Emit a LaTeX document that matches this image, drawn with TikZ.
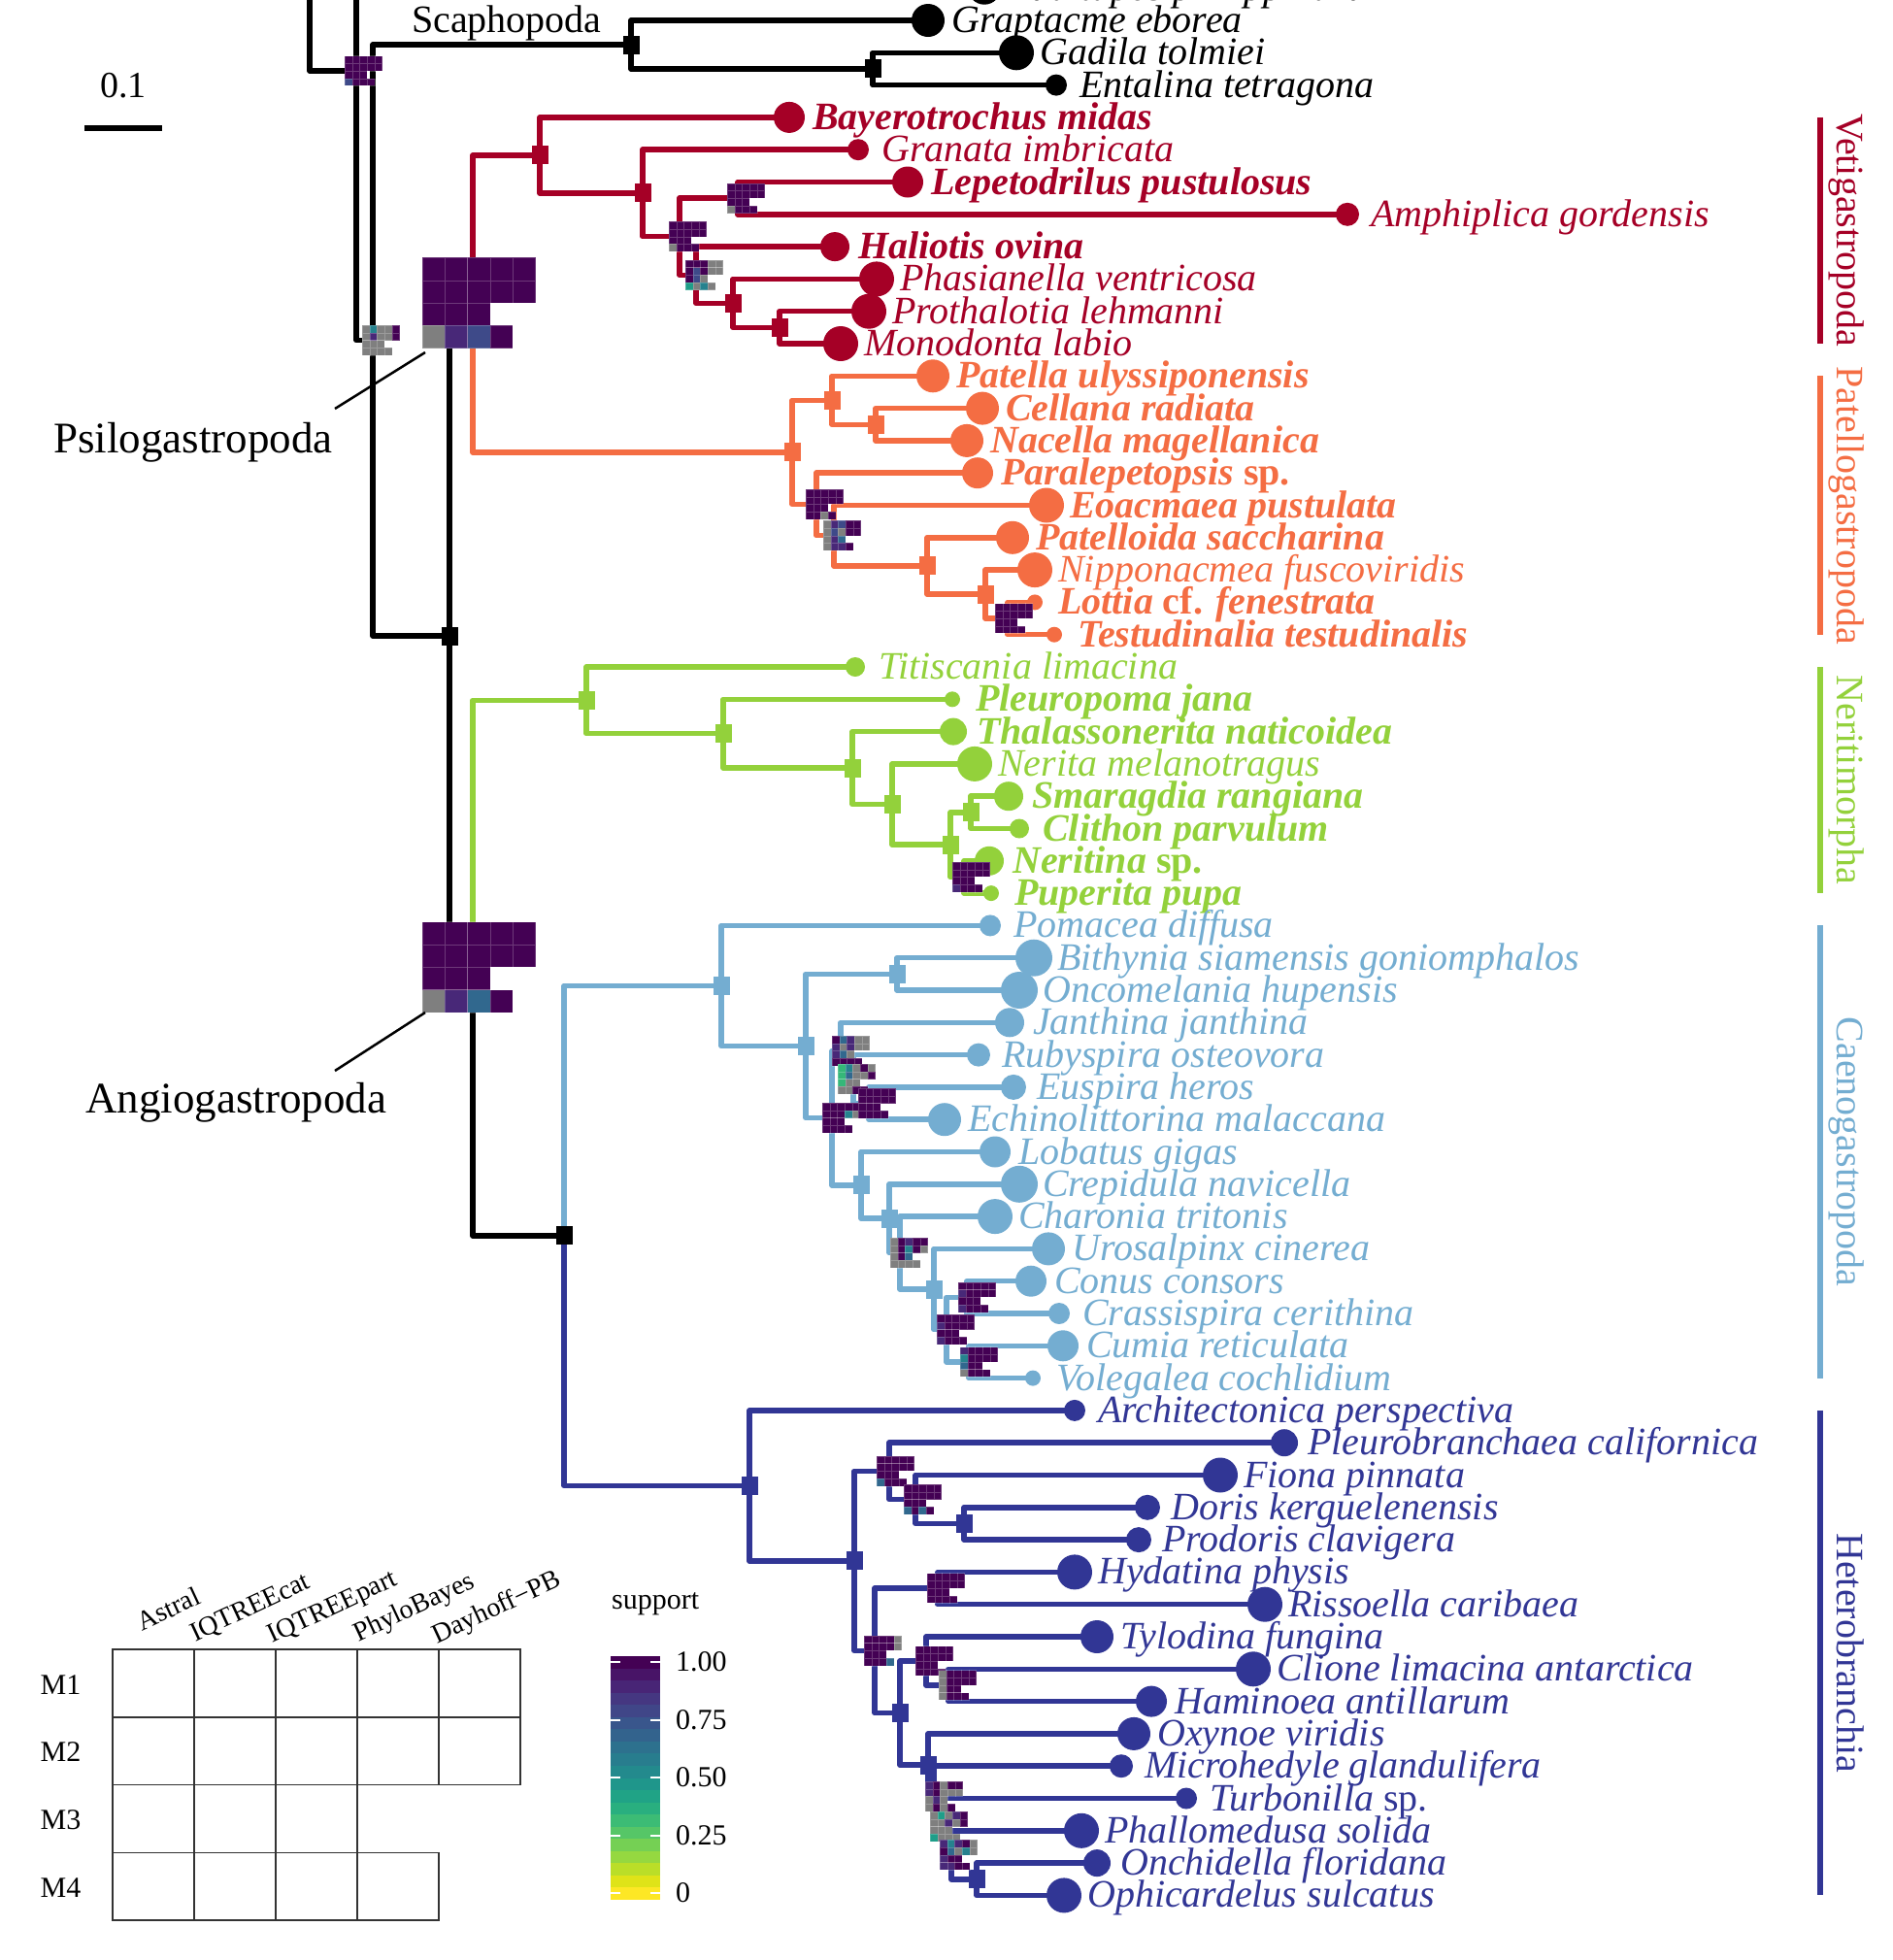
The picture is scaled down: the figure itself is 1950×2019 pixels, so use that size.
\documentclass[tikz,border=0pt]{standalone}
\usepackage{fontspec}
\setmainfont{Liberation Serif}
\usetikzlibrary{calc}
\pgfdeclarelayer{edges}
\pgfsetlayers{edges,main}
\definecolor{cVet}{HTML}{A50026}
\definecolor{cPat}{HTML}{F46D43}
\definecolor{cNer}{HTML}{93D13B}
\definecolor{cCae}{HTML}{74ADD1}
\definecolor{cHet}{HTML}{313695}
\definecolor{vP}{HTML}{440154}
\definecolor{vQ}{HTML}{482878}
\definecolor{vB}{HTML}{3E4A89}
\definecolor{vT}{HTML}{31688E}
\definecolor{vC}{HTML}{26828E}
\definecolor{vG}{HTML}{1F9E89}
\definecolor{vL}{HTML}{35B779}
\definecolor{vN}{HTML}{7F7F7F}
\definecolor{cb0}{HTML}{440154}\definecolor{cb1}{HTML}{481467}\definecolor{cb2}{HTML}{482576}
\definecolor{cb3}{HTML}{453781}\definecolor{cb4}{HTML}{404688}\definecolor{cb5}{HTML}{39568C}
\definecolor{cb6}{HTML}{33638D}\definecolor{cb7}{HTML}{2D718E}\definecolor{cb8}{HTML}{287D8E}
\definecolor{cb9}{HTML}{238A8D}\definecolor{cb10}{HTML}{1F968B}\definecolor{cb11}{HTML}{20A386}
\definecolor{cb12}{HTML}{29AF7F}\definecolor{cb13}{HTML}{3CBC75}\definecolor{cb14}{HTML}{56C667}
\definecolor{cb15}{HTML}{75D054}\definecolor{cb16}{HTML}{95D840}\definecolor{cb17}{HTML}{BADE28}
\definecolor{cb18}{HTML}{DFE318}\definecolor{cb19}{HTML}{FDE725}
\tikzset{
  edge/.style={line width=5.5pt, line join=round, line cap=round},
  tiplab/.style={anchor=base west, inner sep=0pt, font=\fontsize{40}{48}\selectfont\itshape},
  cladelab/.style={anchor=base, inner sep=0pt, rotate=-90, font=\fontsize{40}{48}\selectfont},
  cladebar/.style={line width=6pt},
  cell/.style={draw=white, draw opacity=0.22, line width=0.4pt},
  leglab/.style={inner sep=0pt, font=\fontsize{30}{36}\selectfont},
  colhead/.style={inner sep=0pt, anchor=center, rotate=25, font=\fontsize{28}{34}\selectfont},
  legcell/.style={draw=black!80, line width=1.5pt},
  bigtxt/.style={inner sep=0pt, anchor=base west, font=\fontsize{45}{54}\selectfont},
}
\newcommand\tipnode[6]{%
  \coordinate (#1) at (#2,{21+33.3*(#3)});
  \fill[#5] (#1) circle[radius=#4pt];
  \node[tiplab,text=#5] (#1l) at ($(#1)+(24,12.5)$) {#6};}
\newcommand\inode[3]{\coordinate (#1) at (#2,#3);}
\newcommand\brn[3]{\foreach \cc in {#3}{\draw[edge,#1] (#2) |- (\cc);}}
\newcommand\mkn[2]{\foreach \mm in {#2}{\fill[#1] ($(\mm)+(-8.5,-9.5)$) rectangle ++(17,19);}}
\newcommand\supbox[8][7.7]{%
  \begin{scope}[shift={($(#2)+(#3,#4)$)}]
    \foreach[count=\i from 0] \cl in {#5}{\fill[\cl,cell] ({\i*#1},0) rectangle ++(#1,#1);}
    \foreach[count=\i from 0] \cl in {#6}{\fill[\cl,cell] ({\i*#1},#1) rectangle ++(#1,#1);}
    \foreach[count=\i from 0] \cl in {#7}{\fill[\cl,cell] ({\i*#1},{2*#1}) rectangle ++(#1,#1);}
    \foreach[count=\i from 0] \cl in {#8}{\fill[\cl,cell] ({\i*#1},{3*#1}) rectangle ++(#1,#1);}
  \end{scope}}
\begin{document}
\begin{tikzpicture}[x=1pt,y=-1pt]
\useasboundingbox (0,0) rectangle (1950,2019);
% ---------------- tips
\tipnode{rud}{1014}{-1}{17}{black}{Ruditapes philippinarum}
\tipnode{grap}{956}{0}{17}{black}{Graptacme eborea}
\tipnode{gad}{1047}{1}{18}{black}{Gadila tolmiei}
\tipnode{ent}{1088}{2}{11}{black}{Entalina tetragona}
\tipnode{bay}{813}{3}{16}{cVet}{\bfseries Bayerotrochus midas}
\tipnode{gra}{884}{4}{11}{cVet}{Granata imbricata}
\tipnode{lep}{935}{5}{16}{cVet}{\bfseries Lepetodrilus pustulosus}
\tipnode{amp}{1388}{6}{12}{cVet}{Amphiplica gordensis}
\tipnode{hal}{860}{7}{15}{cVet}{\bfseries Haliotis ovina}
\tipnode{pha}{903}{8}{18}{cVet}{Phasianella ventricosa}
\tipnode{pro}{895}{9}{18}{cVet}{Prothalotia lehmanni}
\tipnode{mon}{866}{10}{18}{cVet}{Monodonta labio}
\tipnode{pat}{961}{11}{17}{cPat}{\bfseries Patella ulyssiponensis}
\tipnode{cel}{1012}{12}{17}{cPat}{\bfseries Cellana radiata}
\tipnode{nac}{996}{13}{17}{cPat}{\bfseries Nacella magellanica}
\tipnode{par}{1007}{14}{16}{cPat}{\bfseries Paralepetopsis \upshape sp.}
\tipnode{eoa}{1078}{15}{18}{cPat}{\bfseries Eoacmaea pustulata}
\tipnode{ptl}{1043}{16}{17}{cPat}{\bfseries Patelloida saccharina}
\tipnode{nip}{1066}{17}{18}{cPat}{Nipponacmea fuscoviridis}
\tipnode{lot}{1066}{18}{8}{cPat}{\bfseries Lottia {\upshape cf.} fenestrata}
\tipnode{tes}{1086}{19}{8}{cPat}{\bfseries Testudinalia testudinalis}
\tipnode{tit}{881}{20}{10}{cNer}{Titiscania limacina}
\tipnode{ple}{981}{21}{8}{cNer}{\bfseries Pleuropoma jana}
\tipnode{tha}{982}{22}{14}{cNer}{\bfseries Thalassonerita naticoidea}
\tipnode{ner}{1004}{23}{18}{cNer}{Nerita melanotragus}
\tipnode{sma}{1039}{24}{15}{cNer}{\bfseries Smaragdia rangiana}
\tipnode{cli}{1050}{25}{10}{cNer}{\bfseries Clithon parvulum}
\tipnode{nea}{1019}{26}{15}{cNer}{\bfseries Neritina \upshape sp.}
\tipnode{pup}{1021}{27}{8}{cNer}{\bfseries Puperita pupa}
\tipnode{pom}{1020}{28}{11}{cCae}{Pomacea diffusa}
\tipnode{bit}{1065}{29}{19}{cCae}{Bithynia siamensis goniomphalos}
\tipnode{onc}{1050}{30}{19}{cCae}{Oncomelania hupensis}
\tipnode{jan}{1040}{31}{15}{cCae}{Janthina janthina}
\tipnode{rub}{1008}{32}{12}{cCae}{Rubyspira osteovora}
\tipnode{eus}{1044}{33}{13}{cCae}{Euspira heros}
\tipnode{ech}{973}{34}{17}{cCae}{Echinolittorina malaccana}
\tipnode{lob}{1025}{35}{16}{cCae}{Lobatus gigas}
\tipnode{cre}{1050}{36}{19}{cCae}{Crepidula navicella}
\tipnode{cha}{1025}{37}{18}{cCae}{Charonia tritonis}
\tipnode{uro}{1080}{38}{17}{cCae}{Urosalpinx cinerea}
\tipnode{con}{1062}{39}{16}{cCae}{Conus consors}
\tipnode{cra}{1091}{40}{11}{cCae}{Crassispira cerithina}
\tipnode{cum}{1095}{41}{16}{cCae}{Cumia reticulata}
\tipnode{vol}{1064}{42}{8}{cCae}{Volegalea cochlidium}
\tipnode{arc}{1107}{43}{11}{cHet}{Architectonica perspectiva}
\tipnode{plb}{1323}{44}{14}{cHet}{Pleurobranchaea californica}
\tipnode{fio}{1257}{45}{18}{cHet}{Fiona pinnata}
\tipnode{dor}{1182}{46}{13}{cHet}{Doris kerguelenensis}
\tipnode{prd}{1173}{47}{13}{cHet}{Prodoris clavigera}
\tipnode{hyd}{1107}{48}{18}{cHet}{Hydatina physis}
\tipnode{ris}{1303}{49}{18}{cHet}{Rissoella caribaea}
\tipnode{tyl}{1130}{50}{17}{cHet}{Tylodina fungina}
\tipnode{cln}{1291}{51}{18}{cHet}{Clione limacina antarctica}
\tipnode{ham}{1186}{52}{16}{cHet}{Haminoea antillarum}
\tipnode{oxy}{1168}{53}{17}{cHet}{Oxynoe viridis}
\tipnode{mic}{1155}{54}{12}{cHet}{Microhedyle glandulifera}
\tipnode{tur}{1222}{55}{11}{cHet}{Turbonilla \upshape sp.}
\tipnode{phl}{1114}{56}{18}{cHet}{Phallomedusa solida}
\tipnode{ocd}{1130}{57}{14}{cHet}{Onchidella floridana}
\tipnode{oph}{1096}{58}{18}{cHet}{Ophicardelus sulcatus}
% ---------------- internal nodes
\inode{r319}{319}{-10}\inode{r367}{367}{-10}
\inode{n367}{367}{73}\inode{n384}{384}{350.5}
\inode{scaph}{650}{46}\inode{n899}{899}{70.95}
\inode{gastro}{463}{655}\inode{psilo}{487}{312.9}\inode{angio}{487}{997.1}
\inode{veti}{556}{159.9}\inode{v662}{662}{198.95}\inode{vA}{700}{243.7}
\inode{vB}{760}{204.15}\inode{vC}{717}{283.25}\inode{vD}{755}{312.4}\inode{vE}{803}{337.35}
\inode{patF}{816}{465.9}\inode{patG}{857}{412.3}\inode{patH}{902}{437.25}
\inode{patI}{841}{519.45}\inode{patJ}{859}{551.7}\inode{patK}{955}{582.95}
\inode{patL}{1015}{612.1}\inode{patM}{1038}{637.05}
\inode{nerN}{604}{721.35}\inode{nerO}{745}{755.7}\inode{nerP}{878}{791.05}
\inode{nerQ}{919}{828.5}\inode{nerR}{979}{870.15}\inode{nerS}{1000}{836.85}\inode{nerT}{993}{903.45}
\inode{ch}{581}{1272.9}
\inode{caeU}{743}{1015.45}\inode{caeV}{830}{1077.5}\inode{caeW}{924}{1003.35}
\inode{caeX}{857}{1151.65}\inode{caeA}{866}{1082.45}\inode{caeB}{879}{1111.6}\inode{caeC}{895}{1136.55}
\inode{caeY}{887}{1220.85}\inode{caeZ}{916}{1255.2}\inode{caeZb}{927}{1290.55}
\inode{caeZc}{962}{1328}\inode{caeZd}{975}{1369.65}\inode{caeZe}{996}{1336.35}\inode{caeZf}{998}{1402.95}
\inode{hAA}{772}{1530.35}\inode{hAB}{880}{1607.8}\inode{hAC}{916}{1515.35}
\inode{hAD}{943}{1544.5}\inode{hAE}{993}{1569.45}\inode{hAF}{901}{1700.3}
\inode{hAG}{966}{1636.05}\inode{hAH}{927}{1764.6}\inode{hAI}{954}{1711}
\inode{hAK}{977}{1735.95}\inode{hAJ}{956}{1818.15}\inode{hAJb}{962}{1850.4}
\inode{hAL}{972}{1881.65}\inode{hAN}{980}{1910.8}\inode{hAO}{1006}{1935.75}
% ---------------- edges
\begin{pgfonlayer}{edges}
\draw[edge] (r319) |- (n367);
\draw[edge] (r367) -- (n367);
\brn{black}{n367}{n384}
\brn{black}{n384}{scaph,gastro}
\brn{black}{scaph}{grap,n899}
\brn{black}{n899}{gad,ent}
\brn{black}{gastro}{psilo,angio}
\brn{black}{angio}{ch}
\brn{cVet}{psilo}{veti}
\brn{cVet}{veti}{bay,v662}
\brn{cVet}{v662}{gra,vA}
\brn{cVet}{vA}{vB,vC}
\brn{cVet}{vB}{lep,amp}
\brn{cVet}{vC}{hal,vD}
\brn{cVet}{vD}{pha,vE}
\brn{cVet}{vE}{pro,mon}
\brn{cPat}{psilo}{patF}
\brn{cPat}{patF}{patG,patI}
\brn{cPat}{patG}{pat,patH}
\brn{cPat}{patH}{cel,nac}
\brn{cPat}{patI}{par,patJ}
\brn{cPat}{patJ}{eoa,patK}
\brn{cPat}{patK}{ptl,patL}
\brn{cPat}{patL}{nip,patM}
\brn{cPat}{patM}{lot,tes}
\brn{cNer}{angio}{nerN}
\brn{cNer}{nerN}{tit,nerO}
\brn{cNer}{nerO}{ple,nerP}
\brn{cNer}{nerP}{tha,nerQ}
\brn{cNer}{nerQ}{ner,nerR}
\brn{cNer}{nerR}{nerS,nerT}
\brn{cNer}{nerS}{sma,cli}
\brn{cNer}{nerT}{nea,pup}
\brn{cCae}{ch}{caeU}
\brn{cCae}{caeU}{pom,caeV}
\brn{cCae}{caeV}{caeW,caeX}
\brn{cCae}{caeW}{bit,onc}
\brn{cCae}{caeX}{caeA,caeY}
\brn{cCae}{caeA}{jan,caeB}
\brn{cCae}{caeB}{rub,caeC}
\brn{cCae}{caeC}{eus,ech}
\brn{cCae}{caeY}{lob,caeZ}
\brn{cCae}{caeZ}{cre,caeZb}
\brn{cCae}{caeZb}{cha,caeZc}
\brn{cCae}{caeZc}{uro,caeZd}
\brn{cCae}{caeZd}{caeZe,caeZf}
\brn{cCae}{caeZe}{con,cra}
\brn{cCae}{caeZf}{cum,vol}
\brn{cHet}{ch}{hAA}
\brn{cHet}{hAA}{arc,hAB}
\brn{cHet}{hAB}{hAC,hAF}
\brn{cHet}{hAC}{plb,hAD}
\brn{cHet}{hAD}{fio,hAE}
\brn{cHet}{hAE}{dor,prd}
\brn{cHet}{hAF}{hAG,hAH}
\brn{cHet}{hAG}{hyd,ris}
\brn{cHet}{hAH}{hAI,hAJ}
\brn{cHet}{hAI}{tyl,hAK}
\brn{cHet}{hAK}{cln,ham}
\brn{cHet}{hAJ}{oxy,hAJb}
\brn{cHet}{hAJb}{mic,hAL}
\brn{cHet}{hAL}{tur,hAN}
\brn{cHet}{hAN}{phl,hAO}
\brn{cHet}{hAO}{ocd,oph}
\end{pgfonlayer}
% ---------------- node markers
\mkn{black}{scaph,n899,gastro,ch}
\mkn{cVet}{veti,v662,vD,vE}
\mkn{cPat}{patF,patG,patH,patK,patL}
\mkn{cNer}{nerN,nerO,nerP,nerQ,nerR,nerS}
\mkn{cCae}{caeU,caeV,caeW,caeY,caeZ,caeZc}
\mkn{cHet}{hAA,hAB,hAE,hAH,hAJ,hAO}
% ---------------- support boxes
\supbox{n367}{-12}{-15.4}{vP,vP,vP,vP,vP}{vP,vP,vP,vP,vP}{vP,vP,vP}{vB,vP,vP,vP}
\supbox{n384}{-11}{-15.4}{vN,vC,vN,vN,vP}{vN,vQ,vN,vN,vP}{vN,vN,vN}{vN,vN,vN,vN}
\supbox[23.3]{psilo}{-52}{-47.5}{vP,vP,vP,vP,vP}{vP,vP,vP,vP,vP}{vP,vP,vP}{vN,vQ,vB,vP}
\supbox[23.3]{angio}{-52}{-47.5}{vP,vP,vP,vP,vP}{vP,vP,vP,vP,vP}{vP,vP,vP}{vN,vQ,vT,vP}
\supbox{vB}{-11}{-15.4}{vP,vP,vP,vP,vP}{vP,vP,vP,vP,vP}{vP,vP,vP}{vN,vP,vP,vP}
\supbox{vA}{-11}{-15.4}{vP,vP,vP,vP,vP}{vP,vP,vP,vP,vP}{vP,vP,vP}{vN,vP,vP,vP}
\supbox{vC}{-11}{-15.4}{vP,vP,vP,vN,vN}{vP,vB,vP,vN,vN}{vP,vB,vN}{vG,vN,vC,vN}
\supbox{patI}{-11}{-15.4}{vP,vP,vP,vP,vP}{vP,vP,vP,vP,vP}{vP,vP,vP}{vP,vP,vN,vP}
\supbox{patJ}{-11}{-15.4}{vN,vQ,vB,vP,vP}{vN,vB,vN,vP,vP}{vN,vQ,vT}{vN,vQ,vQ,vP}
\supbox{patM}{-13}{-15.4}{vP,vP,vP,vP,vP}{vP,vP,vP,vP,vP}{vP,vP,vP}{vP,vP,vP,vP}
\supbox{nerT}{-12}{-15.4}{vP,vP,vP,vP,vP}{vP,vP,vP,vP,vP}{vP,vP,vP}{vQ,vP,vP,vP}
\supbox{caeX}{-10}{-15.4}{vP,vP,vP,vP,vP}{vP,vP,vP,vC,vN}{vP,vP,vP}{vP,vP,vP,vP}
\supbox{caeA}{-9}{-15.4}{vP,vT,vQ,vN,vN}{vQ,vN,vQ,vN,vN}{vQ,vT,vN}{vP,vP,vP,vP}
\supbox{caeB}{-16}{-15.4}{vL,vC,vN,vP,vN}{vL,vT,vN,vN,vP}{vL,vN,vN}{vN,vN,vP,vP}
\supbox{caeC}{-11}{-15.4}{vP,vP,vP,vP,vP}{vP,vP,vP,vP,vP}{vP,vP,vP}{vP,vP,vP,vP}
\supbox{caeZb}{-10}{-15.4}{vN,vP,vQ,vP,vP}{vN,vP,vC,vP,vN}{vN,vP,vT}{vN,vN,vN,vN}
\supbox{caeZe}{-9}{-15.4}{vP,vP,vP,vP,vP}{vQ,vP,vP,vP,vP}{vP,vP,vP}{vQ,vP,vP,vP}
\supbox{caeZd}{-10}{-15.4}{vP,vP,vP,vP,vP}{vQ,vP,vP,vP,vP}{vP,vP,vP}{vQ,vP,vP,vP}
\supbox{caeZf}{-9}{-15.4}{vQ,vP,vP,vP,vP}{vC,vP,vP,vP,vP}{vT,vP,vP}{vN,vP,vP,vP}
\supbox{hAC}{-13}{-15.4}{vP,vP,vP,vP,vP}{vP,vP,vP,vP,vP}{vP,vP,vP}{vT,vP,vP,vP}
\supbox{hAD}{-12}{-15.4}{vP,vP,vP,vP,vP}{vP,vP,vP,vP,vP}{vP,vP,vP}{vT,vP,vT,vP}
\supbox{hAG}{-11}{-15.4}{vP,vP,vP,vP,vP}{vP,vP,vP,vP,vP}{vP,vP,vP}{vP,vP,vP,vP}
\supbox{hAF}{-11}{-15.4}{vP,vP,vP,vP,vN}{vP,vP,vP,vP,vN}{vP,vP,vP}{vP,vP,vP,vT}
\supbox{hAI}{-11}{-15.4}{vP,vP,vP,vP,vP}{vP,vP,vP,vP,vP}{vP,vP,vP}{vP,vP,vP,vP}
\supbox{hAK}{-10}{-15.4}{vN,vP,vP,vP,vP}{vN,vP,vP,vP,vP}{vN,vP,vP}{vN,vP,vP,vP}
\supbox{hAJb}{-9}{-15.4}{vQ,vP,vN,vP,vP}{vQ,vP,vN,vN,vN}{vN,vQ,vN}{vN,vP,vN,vP}
\supbox{hAL}{-14}{-15.4}{vN,vG,vN,vQ,vP}{vN,vN,vQ,vN,vP}{vN,vN,vN}{vG,vN,vN,vN}
\supbox{hAN}{-12}{-15.4}{vQ,vC,vQ,vP,vN}{vP,vT,vN,vC,vN}{vQ,vP,vP}{vQ,vQ,vP,vP}
% ---------------- clade bars and labels
\coordinate (vetT) at (1875,120.9); \coordinate (vetB) at (1875,354);
\coordinate (patT) at (1875,387.3); \coordinate (patB) at (1875,653.7);
\coordinate (nerTp) at (1875,687); \coordinate (nerB) at (1875,920.1);
\coordinate (caeT) at (1875,953.4); \coordinate (caeB2) at (1875,1419.6);
\coordinate (hetT) at (1875,1452.9); \coordinate (hetB) at (1875,1952.4);
\draw[cladebar,cVet] (vetT) -- (vetB);
\draw[cladebar,cPat] (patT) -- (patB);
\draw[cladebar,cNer] (nerTp) -- (nerB);
\draw[cladebar,cCae] (caeT) -- (caeB2);
\draw[cladebar,cHet] (hetT) -- (hetB);
\node[cladelab,text=cVet] (vetL) at (1892,237.5) {Vetigastropoda};
\node[cladelab,text=cPat] (patLb) at (1892,520.5) {Patellogastropoda};
\node[cladelab,text=cNer] (nerL) at (1892,803.5) {Neritimorpha};
\node[cladelab,text=cCae] (caeL) at (1892,1186.5) {Caenogastropoda};
\node[cladelab,text=cHet] (hetL) at (1892,1702.6) {Heterobranchia};
% ---------------- other labels
\node[inner sep=0pt, anchor=base west, font=\fontsize{40}{48}\selectfont] (scaL) at (424,33) {Scaphopoda};
\coordinate (sb1) at (87,132); \coordinate (sb2) at (167,132);
\draw[line width=6pt] (sb1) -- (sb2);
\node[inner sep=0pt, anchor=base, font=\fontsize{38}{46}\selectfont] (sbL) at (127,100) {0.1};
\coordinate (psA) at (438,363); \coordinate (psB) at (345,421);
\draw[line width=2.5pt] (psA) -- (psB);
\node[bigtxt] (psL) at (55,466) {Psilogastropoda};
\coordinate (anA) at (438,1043); \coordinate (anB) at (345,1103);
\draw[line width=2.5pt] (anA) -- (anB);
\node[bigtxt] (anL) at (88,1146) {Angiogastropoda};
% ---------------- legend grid
\foreach \r/\n in {0/5,1/5,2/3,3/4}{
  \foreach \k in {1,...,\n}{
    \draw[legcell] ({116+(\k-1)*84},{1699+\r*69.75}) rectangle ++(84,69.75);}}
\foreach \r/\t in {0/M1,1/M2,2/M3,3/M4}{
  \node[leglab,anchor=base] (row\t) at (62.5,{1745+\r*69.75}) {\t};}
\node[colhead] (hA) at (173,1657) {Astral};
\node[colhead] (hB) at (258,1657) {IQTREEcat};
\node[colhead] (hC) at (343,1657) {IQTREEpart};
\node[colhead] (hD) at (427,1657) {PhyloBayes};
\node[colhead] (hE) at (512,1657) {Dayhoff−PB};
% ---------------- colour bar
\node[leglab,anchor=base west] (supT) at (630,1657) {support};
\foreach \k in {0,...,19}{
  \fill[cb\k] (629,{1706+\k*12.55}) rectangle ++(51,12.6);}
\foreach \v/\y in {1.00/1712,0.75/1772,0.50/1831,0.25/1891,0/1950}{
  \draw[white,line width=1.5pt] (629,\y) -- ++(10,0);
  \draw[white,line width=1.5pt] (670,\y) -- ++(10,0);
  \node[leglab,anchor=west] (cb\v) at (696,\y) {\v};}
\end{tikzpicture}
\end{document}
